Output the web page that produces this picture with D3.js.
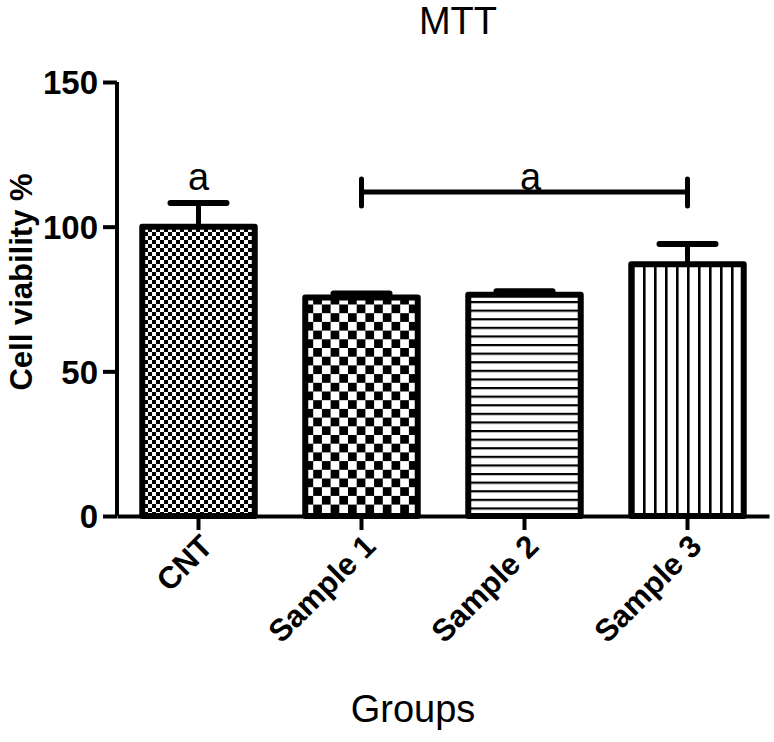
<!DOCTYPE html>
<html><head><meta charset="utf-8">
<script src="https://cdn.jsdelivr.net/npm/d3@7"></script>
<style>body{margin:0;background:#fff}svg{display:block}text{font-family:"Liberation Sans",Arial,sans-serif}</style>
</head><body>
<svg id="chart" width="774" height="742"></svg>
<script>
const categories = ["CNT", "Sample 1", "Sample 2", "Sample 3"];
const means = [100, 75.5, 76.5, 87];
const errors = [8.2, 1.4, 1.2, 7];
const yTicks = [0, 50, 100, 150];
const letterLabels = [{from: "CNT", to: "CNT", text: "a", value: 112}, {from: "Sample 1", to: "Sample 3", text: "a", value: 112}];
const patterns = ["fineCheck", "coarseCheck", "hLines", "vLines"];

const svg = d3.select("#chart");
const x = d3.scaleBand().domain(categories).range([117, 769]).paddingInner(0.31).paddingOuter(0.155);
const y = d3.scaleLinear().domain([0, 150]).range([516, 82]);

const defs = svg.append("defs");
let p = defs.append("pattern").attr("id", "fineCheck").attr("patternUnits", "userSpaceOnUse").attr("width", 8).attr("height", 8);
p.append("rect").attr("width", 8).attr("height", 8).attr("fill", "#fff");
p.append("rect").attr("width", 4).attr("height", 4).attr("fill", "#000");
p.append("rect").attr("x", 4).attr("y", 4).attr("width", 4).attr("height", 4).attr("fill", "#000");
p = defs.append("pattern").attr("id", "coarseCheck").attr("patternUnits", "userSpaceOnUse").attr("width", 17.4).attr("height", 17.4);
p.append("rect").attr("width", 17.4).attr("height", 17.4).attr("fill", "#fff");
p.append("rect").attr("width", 8.7).attr("height", 8.7).attr("fill", "#000");
p.append("rect").attr("x", 8.7).attr("y", 8.7).attr("width", 8.7).attr("height", 8.7).attr("fill", "#000");
p = defs.append("pattern").attr("id", "hLines").attr("patternUnits", "userSpaceOnUse").attr("width", 10).attr("height", 8.6);
p.append("rect").attr("width", 10).attr("height", 8.6).attr("fill", "#fff");
p.append("rect").attr("y", 0).attr("width", 10).attr("height", 2.2).attr("fill", "#000");
p = defs.append("pattern").attr("id", "vLines").attr("patternUnits", "userSpaceOnUse").attr("width", 11).attr("height", 10).attr("x", 632);
p.append("rect").attr("width", 11).attr("height", 10).attr("fill", "#fff");
p.append("rect").attr("x", 0).attr("width", 2.6).attr("height", 10).attr("fill", "#000");

svg.append("g").selectAll("rect").data(categories).join("rect")
  .attr("x", d => x(d))
  .attr("y", (d, i) => y(means[i]))
  .attr("width", x.bandwidth())
  .attr("height", (d, i) => y(0) - y(means[i]))
  .attr("fill", (d, i) => `url(#${patterns[i]})`)
  .attr("stroke", "#000").attr("stroke-width", 6).attr("stroke-linejoin", "round");

const eb = svg.append("g").attr("stroke", "#000").attr("stroke-linecap", "round");
categories.forEach((c, i) => {
  const cx = x(c) + x.bandwidth() / 2;
  eb.append("line").attr("x1", cx).attr("x2", cx).attr("y1", y(means[i])).attr("y2", y(means[i] + errors[i])).attr("stroke-width", 5);
  eb.append("line").attr("x1", cx - 28).attr("x2", cx + 28).attr("y1", y(means[i] + errors[i])).attr("y2", y(means[i] + errors[i])).attr("stroke-width", 6);
});

const yAxis = svg.append("g").attr("transform", "translate(117,0)")
  .call(d3.axisLeft(y).tickValues(yTicks).tickSize(14).tickPadding(5));
yAxis.select(".domain").attr("d", `M0,${y(150)}V${y(0)}`).attr("stroke-width", 4);
yAxis.selectAll(".tick line").attr("stroke-width", 4);
yAxis.selectAll(".tick text").attr("font-size", 33).attr("font-weight", "bold").attr("fill", "#000").attr("dy", "0.36em");

const xAxis = svg.append("g").attr("transform", `translate(0,${y(0)})`)
  .call(d3.axisBottom(x).tickSize(14).tickSizeOuter(0));
xAxis.select(".domain").attr("stroke-width", 4);
xAxis.selectAll(".tick line").attr("stroke-width", 4);
xAxis.selectAll(".tick text").attr("font-size", 31).attr("font-weight", "bold").attr("fill", "#000")
  .attr("text-anchor", "end").attr("dy", 0).attr("y", 0)
  .attr("transform", "translate(16,32) rotate(-45)");

const ann = svg.append("g");
letterLabels.forEach(l => {
  const x1 = x(l.from) + x.bandwidth() / 2, x2 = x(l.to) + x.bandwidth() / 2;
  const yy = y(l.value);
  if (l.from !== l.to) {
    ann.append("path").attr("d", `M${x1},${yy - 13}V${yy + 14}M${x1},${yy}H${x2}M${x2},${yy - 13}V${yy + 14}`)
      .attr("stroke", "#000").attr("stroke-width", 5).attr("stroke-linecap", "round").attr("fill", "none");
  }
  ann.append("text").attr("x", (x1 + x2) / 2 + (l.from !== l.to ? 6 : 0)).attr("y", yy - 2)
    .attr("text-anchor", "middle").attr("font-size", 38).text(l.text);
});

svg.append("text").attr("x", 458).attr("y", 34).attr("text-anchor", "middle").attr("font-size", 38).text("MTT");
svg.append("text").attr("x", 413).attr("y", 722).attr("text-anchor", "middle").attr("font-size", 38).text("Groups");
svg.append("text").attr("transform", "translate(32,282) rotate(-90)").attr("text-anchor", "middle")
  .attr("font-size", 31).attr("font-weight", "bold").text("Cell viability %");
</script>
</body></html>
